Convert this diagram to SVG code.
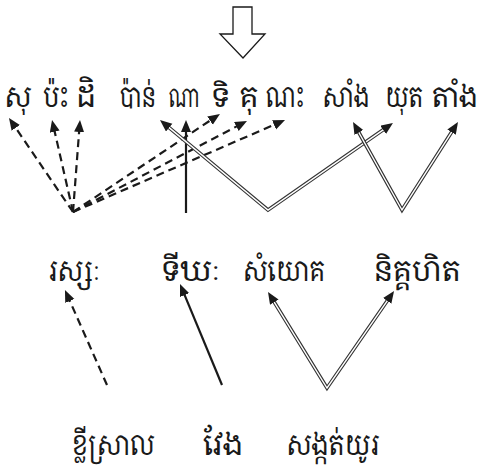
<svg xmlns="http://www.w3.org/2000/svg" width="485" height="468" viewBox="0 0 485 468">
<style>
text{font-family:"Noto Serif Khmer","Noto Sans Khmer","Khmer OS","Noto Sans",sans-serif;font-size:29px;fill:#1a1a1a;text-anchor:middle}
.sm{font-size:27px}
.dash{stroke:#1a1a1a;stroke-width:2.2;stroke-dasharray:8 5;fill:none}
.solid{stroke:#1a1a1a;stroke-width:2.2;fill:none}
.dblo{stroke:#333;stroke-width:3.6;fill:none}
.dbli{stroke:#fff;stroke-width:1.4;fill:none}
.mk{stroke:none;fill:none}
</style>
<defs>
<marker id="ah" markerUnits="userSpaceOnUse" markerWidth="14" markerHeight="12" refX="4" refY="5" orient="auto">
<path d="M0,0 L12,5 L0,10 z" fill="#1a1a1a"/>
</marker>
</defs>
<polygon id="bigarrow" points="233,7 252,7 252,34 265,34 243,58 220,34 233,34" fill="#fff" stroke="#1a1a1a" stroke-width="1.3"/>
<g id="top-su"><text x="18" y="107" textLength="27" lengthAdjust="spacingAndGlyphs">សុ</text></g>
<g id="top-pah"><text x="56" y="107" textLength="26" lengthAdjust="spacingAndGlyphs">ប៉ះ</text></g>
<g id="top-dei"><text x="86" y="107" textLength="20" lengthAdjust="spacingAndGlyphs">ដិ</text></g>
<g id="top-pan"><text x="138" y="107" textLength="36" lengthAdjust="spacingAndGlyphs">ប៉ាន់</text></g>
<g id="top-na"><text class="sm" x="184" y="107" textLength="31" lengthAdjust="spacingAndGlyphs">ណា</text></g>
<g id="top-ti"><text class="sm" x="221" y="107" textLength="18" lengthAdjust="spacingAndGlyphs">ទិ</text></g>
<g id="top-ku"><text x="249" y="107" textLength="19" lengthAdjust="spacingAndGlyphs">គុ</text></g>
<g id="top-nah"><text x="285" y="107" textLength="39" lengthAdjust="spacingAndGlyphs">ណះ</text></g>
<g id="top-sang"><text x="346" y="107" textLength="47" lengthAdjust="spacingAndGlyphs">សាំង</text></g>
<g id="top-yut"><text x="404" y="107" textLength="38" lengthAdjust="spacingAndGlyphs">យុត</text></g>
<g id="top-tang"><text x="455" y="107" textLength="46" lengthAdjust="spacingAndGlyphs">តាំង</text></g>
<g id="mid-rossa"><text x="74" y="281" textLength="52" lengthAdjust="spacingAndGlyphs">រស្សៈ</text></g>
<g id="mid-tirkha"><text x="191" y="281" textLength="58" lengthAdjust="spacingAndGlyphs">ទីឃៈ</text></g>
<g id="mid-sanyok"><text x="284" y="281" textLength="82" lengthAdjust="spacingAndGlyphs">សំយោគ</text></g>
<g id="mid-nikkahit"><text x="417" y="281" textLength="87" lengthAdjust="spacingAndGlyphs">និគ្គហិត</text></g>
<g id="bot-khlei"><text x="113" y="455" textLength="83" lengthAdjust="spacingAndGlyphs">ខ្លីស្រាល</text></g>
<g id="bot-veng"><text x="223" y="455" textLength="40" lengthAdjust="spacingAndGlyphs">វែង</text></g>
<g id="bot-sangkat"><text x="333" y="455" textLength="93" lengthAdjust="spacingAndGlyphs">សង្កត់យូរ</text></g>
<g id="connectors">
<path class="dash" marker-end="url(#ah)" d="M73,212 L13.5,124.6"/>
<path class="dash" marker-end="url(#ah)" d="M73,212 L53.8,127.8"/>
<path class="dash" marker-end="url(#ah)" d="M73,212 L79.4,128"/>
<path class="dash" marker-end="url(#ah)" d="M73,212 L213.3,118.4"/>
<path class="dash" marker-end="url(#ah)" d="M73,212 L239.9,124.7"/>
<path class="dash" marker-end="url(#ah)" d="M73,212 L277.7,123.2"/>
<path class="solid" marker-end="url(#ah)" d="M186,213 L186,128"/>
<path class="dash" marker-end="url(#ah)" d="M107,385 L68.2,297.3"/>
<path class="solid" marker-end="url(#ah)" d="M222,385 L183.1,291.4"/>
<path class="dblo" d="M166.1,125.1 L268,210 L386.4,127.6"/>
<path class="dbli" d="M166.1,125.1 L268,210 L386.4,127.6"/>
<path class="dblo" d="M356.9,129 L402,210 L453.7,128.8"/>
<path class="dbli" d="M356.9,129 L402,210 L453.7,128.8"/>
<path class="dblo" d="M272.2,298.8 L327,388 L389.5,297.6"/>
<path class="dbli" d="M272.2,298.8 L327,388 L389.5,297.6"/>
<path class="mk" marker-end="url(#ah)" d="M268,210 L166.1,125.1"/>
<path class="mk" marker-end="url(#ah)" d="M268,210 L386.4,127.6"/>
<path class="mk" marker-end="url(#ah)" d="M402,210 L356.9,129"/>
<path class="mk" marker-end="url(#ah)" d="M402,210 L453.7,128.8"/>
<path class="mk" marker-end="url(#ah)" d="M327,388 L272.2,298.8"/>
<path class="mk" marker-end="url(#ah)" d="M327,388 L389.5,297.6"/>
</g>
</svg>
